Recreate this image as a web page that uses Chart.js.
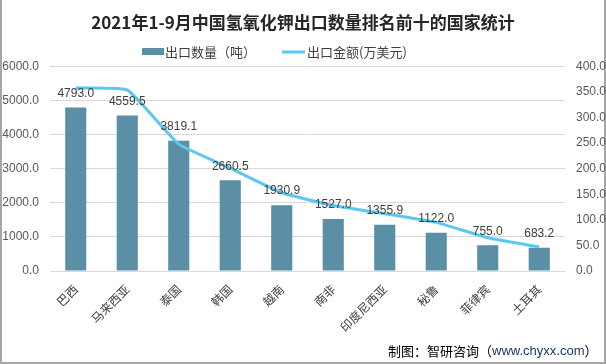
<!DOCTYPE html>
<html>
<head>
<meta charset="utf-8">
<script src="https://cdn.jsdelivr.net/npm/chart.js@4"></script>
<style>
  html, body { margin: 0; padding: 0; background: #fff; }
  #wrap { position: relative; width: 606px; height: 364px; box-sizing: border-box;
          border-left: 2px solid #a6a6a6; border-right: 2px solid #a6a6a6; border-bottom: 2px solid #a6a6a6; }
  canvas { position: absolute; left: -2px; top: 0; }
</style>
</head>
<body>
<div id="wrap"><canvas id="chart" width="606" height="364"></canvas></div>
<script>
const categories = ['巴西', '马来西亚', '泰国', '韩国', '越南', '南非', '印度尼西亚', '秘鲁', '菲律宾', '土耳其'];
const quantity = [4793.0, 4559.5, 3819.1, 2660.5, 1930.9, 1527.0, 1355.9, 1122.0, 755.0, 683.2];
const amount = [358, 354, 248, 201, 153, 128, 112, 95, 65, 47];
const seriesNames = ['出口数量（吨）', '出口金额(万美元)'];

const FONT = "'Liberation Sans', 'Noto Sans CJK SC', sans-serif";
const CJK = "'Noto Sans CJK SC', sans-serif";

// value labels above the bars
const barLabels = {
  id: 'barLabels',
  afterDatasetsDraw(chart) {
    const ctx = chart.ctx;
    const meta = chart.getDatasetMeta(0);
    ctx.save();
    ctx.font = '12px ' + FONT;
    ctx.fillStyle = '#404040';
    ctx.textAlign = 'center';
    ctx.textBaseline = 'middle';
    meta.data.forEach((bar, i) => {
      ctx.fillText(quantity[i].toFixed(1), bar.x, bar.y - 14);
    });
    ctx.restore();
  }
};

// legend and source note
const extras = {
  id: 'extras',
  afterDraw(chart) {
    const ctx = chart.ctx;
    const ds = chart.data.datasets;
    ctx.save();
    ctx.font = '13px ' + CJK;
    ctx.textBaseline = 'middle';
    ctx.fillStyle = ds[0].backgroundColor;
    ctx.fillRect(142, 48, 22, 7);
    ctx.fillStyle = '#404040';
    ctx.fillText(ds[0].label, 165, 52);
    ctx.strokeStyle = ds[1].borderColor;
    ctx.lineWidth = 3;
    ctx.beginPath();
    ctx.moveTo(282, 52);
    ctx.lineTo(305, 52);
    ctx.stroke();
    ctx.fillText(ds[1].label, 307, 52);

    let x = 388;
    const y = 351;
    ctx.fillStyle = '#000';
    ctx.font = '13px ' + CJK;
    ctx.fillText('制图：智研咨询（', x, y);
    x += ctx.measureText('制图：智研咨询（').width;
    ctx.fillStyle = '#1f3864';
    ctx.font = '13px ' + FONT;
    ctx.fillText('www.chyxx.com', x, y);
    x += ctx.measureText('www.chyxx.com').width;
    ctx.fillStyle = '#000';
    ctx.font = '13px ' + CJK;
    ctx.fillText('）', x, y);
    ctx.restore();
  }
};

new Chart(document.getElementById('chart'), {
  data: {
    labels: categories,
    datasets: [
      {
        type: 'bar',
        label: seriesNames[0],
        data: quantity,
        backgroundColor: '#5b8fa6',
        barPercentage: 0.41,
        categoryPercentage: 1,
        yAxisID: 'y',
        order: 2
      },
      {
        type: 'line',
        label: seriesNames[1],
        data: amount,
        borderColor: '#5bc8f2',
        backgroundColor: '#5bc8f2',
        borderWidth: 3,
        pointRadius: 0,
        tension: 0.12,
        yAxisID: 'y1',
        order: 1
      }
    ]
  },
  options: {
    responsive: false,
    animation: false,
    layout: { padding: { left: 0, right: 0, top: 0, bottom: 0 } },
    plugins: {
      legend: { display: false },
      tooltip: { enabled: false },
      title: {
        display: true,
        text: '2021年1-9月中国氢氧化钾出口数量排名前十的国家统计',
        color: '#262626',
        font: { size: 17, weight: 'bold', family: CJK },
        padding: { top: 12, bottom: 34 }
      }
    },
    scales: {
      x: {
        grid: { display: false },
        border: { color: '#d9d9d9' },
        ticks: {
          color: '#404040',
          font: { size: 12, family: CJK },
          minRotation: 45,
          maxRotation: 45,
          autoSkip: false
        },
        afterFit(scale) { scale.height = 93; }
      },
      y: {
        position: 'left',
        min: 0,
        max: 6000,
        grid: { color: '#d9d9d9', drawTicks: false },
        border: { display: false },
        ticks: {
          stepSize: 1000,
          padding: 11,
          color: '#595959',
          font: { size: 12, family: FONT },
          callback: v => v.toFixed(1)
        },
        afterFit(scale) { scale.width = 50; }
      },
      y1: {
        position: 'right',
        min: 0,
        max: 400,
        grid: { display: false, drawTicks: false },
        border: { display: false },
        ticks: {
          stepSize: 50,
          padding: 11,
          color: '#595959',
          font: { size: 12, family: FONT },
          callback: v => v.toFixed(1)
        },
        afterFit(scale) { scale.width = 41; }
      }
    }
  },
  plugins: [barLabels, extras]
});
</script>
</body>
</html>
